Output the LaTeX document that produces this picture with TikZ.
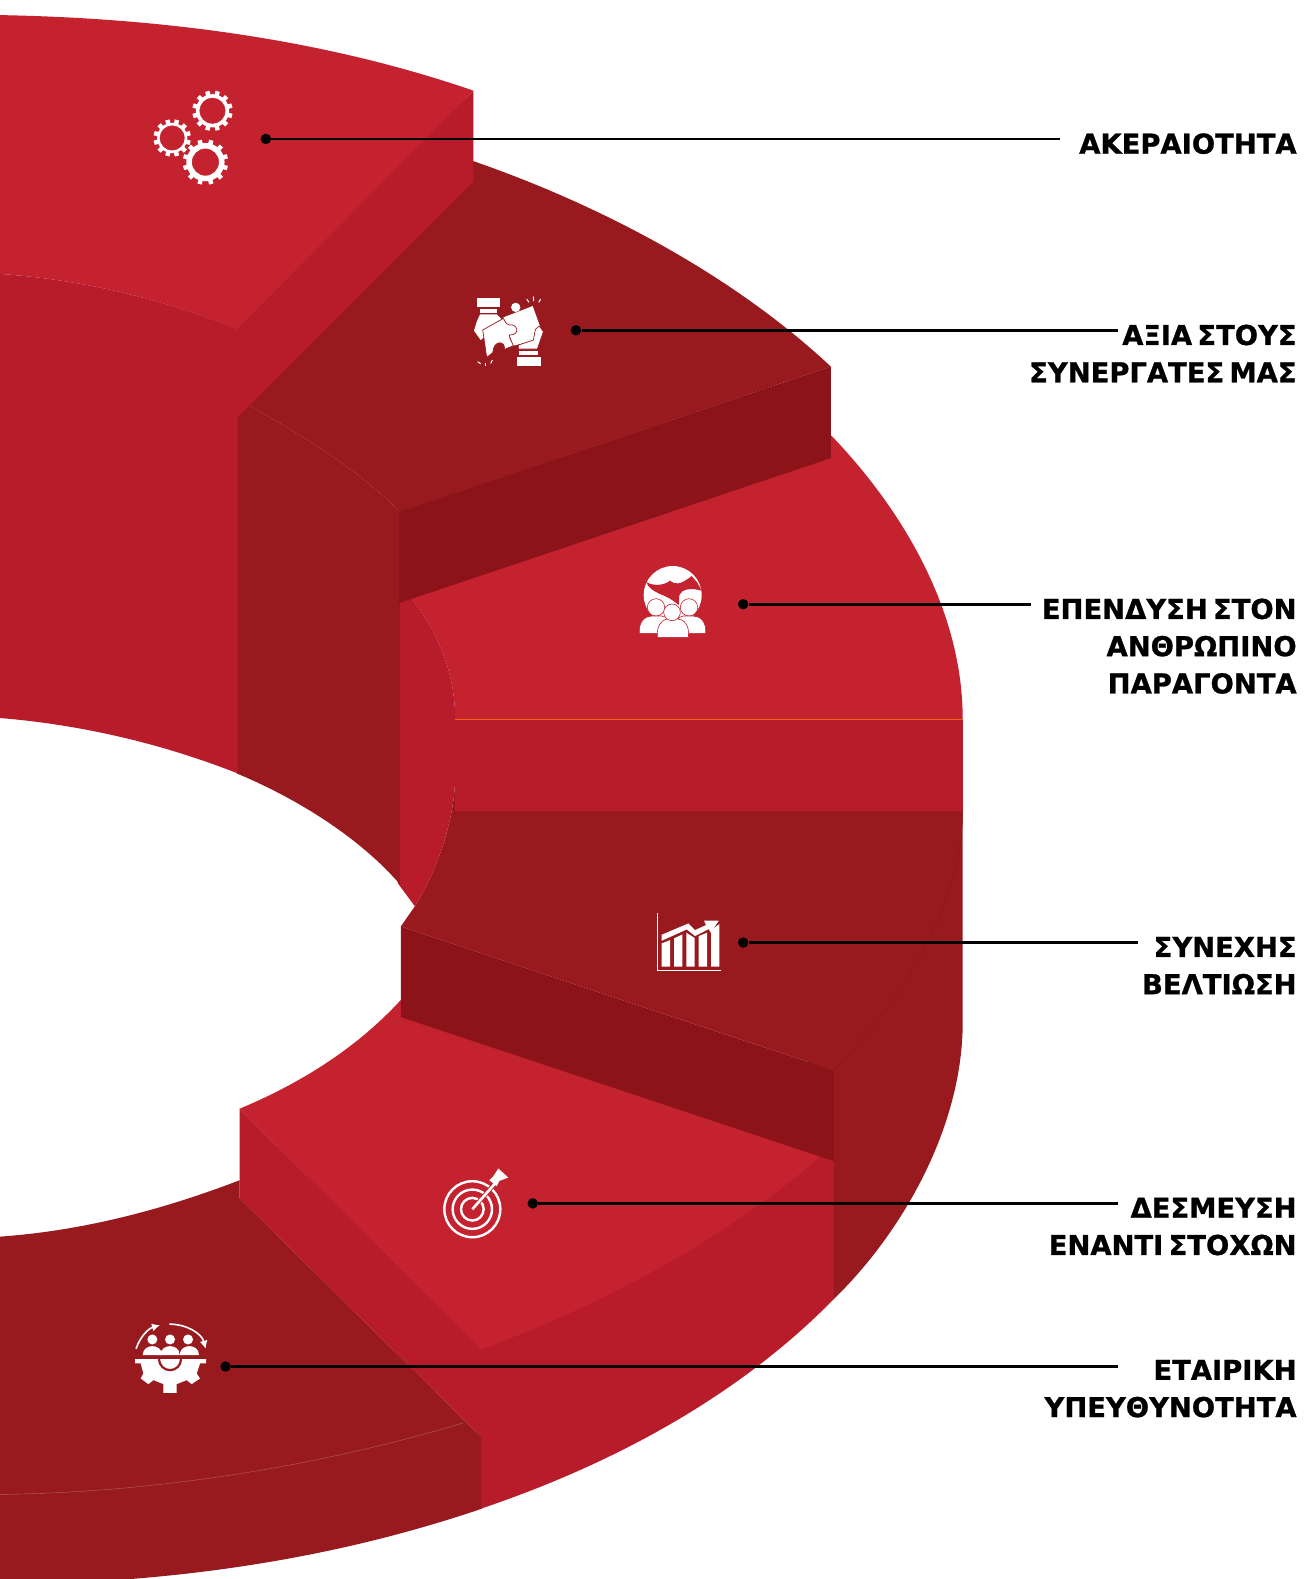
\documentclass[tikz,border=0pt]{standalone}
\usepackage{fontspec}
\usetikzlibrary{arrows.meta}
\setmainfont{DejaVu Sans}[BoldFeatures={FakeBold=0.9},WordSpace=0.55]
\definecolor{brightred}{HTML}{C52230}
\definecolor{wallred}{HTML}{B81C2B}
\definecolor{darkred}{HTML}{981A1E}
\definecolor{deepred}{HTML}{8C1418}
\tikzset{
	slicetop/.style={fill=brightred},
	slicewall/.style={fill=wallred},
	slicedark/.style={fill=darkred},
	sliceside/.style={fill=deepred},
	dot/.style={circle,fill=black,inner sep=0pt,minimum size=5.2pt},
	leader/.style={draw=black,line width=1.3pt},
	tag/.style={anchor=north east,align=right,inner sep=0pt,font=\fontsize{13.6}{18.5}\selectfont\bfseries},
	iconfill/.style={fill=white},
	iconline/.style={draw=white,line width=#1},
}
\newcommand{\gearicon}[4]{
	\fill[iconfill,even odd rule] (#1,#2) circle ({#4-3.5}) (#1,#2) circle (#3);
	\begin{scope}[shift={(#1,#2)}]
		\foreach \ang in {15,45,...,345}
			\draw[iconline=2.2pt] (\ang:{#4-5}) -- (\ang:#4);
	\end{scope}
}
\begin{document}
\begin{tikzpicture}[x=0.5pt,y=-0.5pt]
	\useasboundingbox (0,0) rectangle (1296,1568);
	\fill[white] (0,0) rectangle (1296,1568);
	% bottom slice
	\fill[slicedark] (0,1228) .. controls (85,1222) and (165,1200) .. (238,1172) -- (238,1190) -- (479,1428) -- (479,1498) .. controls (370,1535) and (255,1558) .. (130,1568) -- (0,1568) -- cycle;
	\draw[draw=darkred!70!white,line width=0.2pt] (0,1484) .. controls (160,1482) and (320,1455) .. (460,1413);
	% target slice
	\fill[slicewall] (238,1101) -- (479,1340) -- (479,1428) -- (238,1190) -- cycle;
	\fill[slicewall] (478,1335) -- (813,1145) -- (828,1148) -- (828,1290) .. controls (740,1380) and (620,1450) .. (478,1498) -- cycle;
	\fill[slicetop] (238,1101) .. controls (300,1075) and (355,1040) .. (398,993) -- (398,1000) -- (813,1140) -- (813,1150) .. controls (720,1230) and (600,1295) .. (478,1340) -- cycle;
	% chart slice
	\fill[slicedark] (940,805) -- (956,805) -- (956,1015) .. controls (956,1120) and (895,1225) .. (828,1290) -- (828,1100) -- (800,1050) -- cycle;
	\fill[sliceside] (398,920) -- (828,1063) -- (828,1153) -- (398,1010) -- cycle;
	\fill[slicedark] (452,803) -- (956,803) -- (956,805) .. controls (956,900) and (890,1000) .. (828,1063) -- (398,920) -- (412,900) .. controls (436,862) and (452,810) .. (452,770) -- cycle;
	\draw[draw=deepred,line width=0.2pt] (956,805) .. controls (956,900) and (890,1000) .. (828,1063);
	% people slice
	\fill[slicewall] (452,714) -- (956,714) -- (956,805) -- (452,805) -- cycle;
	\fill[slicetop] (410,585) -- (825,425) -- (825,432) .. controls (900,510) and (956,610) .. (956,714) -- (452,714) .. controls (452,670) and (436,630) .. (410,596) -- cycle;
	\fill[slicewall] (395,590) -- (410,585) -- (410,596) .. controls (436,630) and (452,670) .. (452,714) -- (452,770) .. controls (452,810) and (436,862) .. (412,900) -- (395,877) -- cycle;
	\draw[draw=orange!70!brightred,line width=0.2pt] (452,714) -- (956,714);
	% puzzle slice
	\fill[slicedark] (235,405) -- (248,403) .. controls (305,435) and (360,470) .. (397,508) -- (397,878) .. controls (360,835) and (300,795) .. (235,768) -- cycle;
	\fill[slicedark] (235,415) -- (470,160) .. controls (600,205) and (730,275) .. (825,364) -- (397,508) .. controls (360,470) and (305,435) .. (248,403) -- cycle;
	\fill[sliceside] (396,508) -- (825,364) -- (825,455) -- (396,599) -- cycle;
	% top slice
	\fill[slicewall] (0,272) .. controls (85,278) and (165,298) .. (236,327) -- (236,768) .. controls (165,740) and (85,720) .. (0,713) -- cycle;
	\fill[slicewall] (470,90) -- (470,180) -- (235,415) -- (235,320) -- cycle;
	\fill[slicetop] (0,15) .. controls (165,18) and (325,40) .. (470,90) -- (235,327) .. controls (165,298) and (85,278) .. (0,272) -- cycle;
	% gears
	\gearicon{211}{110}{13}{20}
	\gearicon{171}{137}{12.5}{18.5}
	\gearicon{204}{161}{13.5}{22.5}
	% puzzle hands
	\begin{scope}[shift={(446.9,278.1)},scale=0.331]
		\fill[iconfill] (82,54) rectangle (150,82);
		\fill[iconfill] (90,87) rectangle (142,98);
		\fill[iconfill] (202,232) rectangle (272,258);
		\fill[iconfill] (208,212) rectangle (265,226);
		\fill[iconfill] (90,103) -- (140,103) -- (155,118) -- (100,150) -- (104,168) -- (92,180) -- (72,152) -- (80,125) -- cycle;
		\fill[iconfill] (197,82) circle (14);
		\fill[iconfill] (160,112) -- (248,78) -- (274,150) -- (250,182) -- (190,197) -- cycle;
		\filldraw[fill=white,draw=darkred,line width=0.35pt] (205,207) -- (262,207) -- (280,155) -- (268,138) -- (256,148) -- (250,180) -- (205,195) -- cycle;
		\filldraw[fill=white,draw=darkred,line width=0.35pt] (98,150) -- (160,115) .. controls (168,130) and (172,135) .. (178,135) .. controls (200,128) and (215,165) .. (178,165) .. controls (178,175) and (185,185) .. (190,197) -- (163,208) .. controls (168,182) and (130,178) .. (128,218) -- (110,232) -- cycle;
		\foreach \xa/\ya/\xb/\yb in {230/57/237/67,250/50/251/63,272/57/266/67,83/245/92/251,106/248/106/258,127/240/122/250}
			\draw[iconline=0.5pt] (\xa,\ya) -- (\xb,\yb);
	\end{scope}
	% globe and people
	\begin{scope}[shift={(615.7,546.2)},scale=0.331]
		\fill[iconfill] (158,135) circle (87);
		\fill[brightred] (78,95) .. controls (95,108) and (130,108) .. (150,92) .. controls (165,105) and (180,105) .. (215,78) -- (232,98) -- (245,122) .. controls (210,112) and (185,118) .. (178,135) -- (176,165) .. controls (160,150) and (140,140) .. (120,132) .. controls (100,122) and (85,115) .. (78,95) -- cycle;
		\foreach \hx/\hy in {108/172,207/172}
			\filldraw[fill=white,draw=brightred,line width=0.3pt] (\hx,\hy) circle (26);
		\filldraw[fill=white,draw=brightred,line width=0.3pt] (58,250) .. controls (55,215) and (75,198) .. (95,198) -- (125,198) .. controls (145,198) and (150,220) .. (150,250) -- cycle;
		\filldraw[fill=white,draw=brightred,line width=0.3pt] (257,250) .. controls (260,215) and (240,198) .. (220,198) -- (190,198) .. controls (170,198) and (165,220) .. (165,250) -- cycle;
		\filldraw[fill=white,draw=brightred,line width=0.3pt] (112,262) .. controls (108,225) and (130,206) .. (145,206) -- (170,206) .. controls (190,206) and (210,225) .. (205,262) -- cycle;
		\filldraw[fill=white,draw=brightred,line width=0.3pt] (156,187) circle (25);
	\end{scope}
	% chart
	\begin{scope}[shift={(635.6,893.8)},scale=0.331]
		\draw[iconline=0.5pt] (52,40) -- (52,212) -- (242,212);
		\fill[iconfill] (65,130) -- (90,120) -- (90,200) -- (65,200) -- cycle;
		\fill[iconfill] (102,115) -- (127,103) -- (127,200) -- (102,200) -- cycle;
		\fill[iconfill] (139,98) -- (164,114) -- (164,200) -- (139,200) -- cycle;
		\fill[iconfill] (176,108) -- (201,98) -- (201,200) -- (176,200) -- cycle;
		\fill[iconfill] (213,90) -- (238,72) -- (238,200) -- (213,200) -- cycle;
		\fill[iconfill] (65,104) -- (145,70) -- (165,90) -- (198,75) -- (192,62) -- (236,62) -- (212,98) -- (206,87) -- (165,108) -- (140,88) -- (65,122) -- cycle;
	\end{scope}
	% target
	\begin{scope}[shift={(427,1142.2)},scale=0.331]
		\foreach \ring in {84,59,34}
			\draw[iconline=1.2pt] (127,177) circle (\ring);
		\draw[brightred,line width=2.2pt] (127,177) -- (190,105);
		\draw[iconline=1.3pt] (127,177) -- (195,100);
		\fill[iconfill] (205,55) -- (235,82) -- (208,92) -- (200,108) -- (178,90) -- (190,78) -- cycle;
	\end{scope}
	% team and gear
	\begin{scope}[shift={(119.2,1301)},scale=0.331]
		\foreach \hx in {97,150,204}
			\fill[iconfill] (\hx,88) circle (15);
		\foreach \bx in {97,150,208}
			\fill[iconfill] ({\bx-29},135) .. controls ({\bx-29},115) and ({\bx-12},108) .. (\bx,108) .. controls ({\bx+12},108) and ({\bx+29},115) .. ({\bx+29},135) -- cycle;
		\fill[iconfill] (45,147) -- (258,147) -- (258,160) -- (240,160) -- (230,190) -- (240,205) -- (215,222) -- (200,210) -- (170,222) -- (170,248) -- (130,248) -- (130,222) -- (100,210) -- (85,222) -- (62,205) -- (70,190) -- (62,160) -- (45,160) -- cycle;
		\draw[darkred,line width=1.1pt] (117,147) arc (180:0:33);
		\draw[iconline=0.8pt,-{Latex[length=4pt,width=4pt]}] (48,116) .. controls (60,80) and (85,55) .. (120,45);
		\draw[iconline=0.8pt,-{Latex[length=4pt,width=4pt]}] (148,42) .. controls (200,42) and (245,70) .. (257,116);
	\end{scope}
	% callouts
	\node (D1) at (264,138) [dot] {};
	\node (D2) at (572,328) [dot] {};
	\node (D3) at (738,600) [dot] {};
	\node (D4) at (738,936) [dot] {};
	\node (D5) at (529,1195) [dot] {};
	\node (D6) at (224,1357) [dot] {};
	\coordinate (E1) at (1053,138);
	\coordinate (E2) at (1110,328);
	\coordinate (E3) at (1024,600);
	\coordinate (E4) at (1130,936);
	\coordinate (E5) at (1110,1195);
	\coordinate (E6) at (1110,1357);
	\draw[leader] (D1) -- (E1);
	\draw[leader] (D2) -- (E2);
	\draw[leader] (D3) -- (E3);
	\draw[leader] (D4) -- (E4);
	\draw[leader] (D5) -- (E5);
	\draw[leader] (D6) -- (E6);
	\node (T1) at (1288,132) [tag] {ΑΚΕΡΑΙΟΤΗΤΑ};
	\node (T2) at (1288,322) [tag] {ΑΞΙΑ ΣΤΟΥΣ\\ΣΥΝΕΡΓΑΤΕΣ ΜΑΣ};
	\node (T3) at (1288,594) [tag] {ΕΠΕΝΔΥΣΗ ΣΤΟΝ\\ΑΝΘΡΩΠΙΝΟ\\ΠΑΡΑΓΟΝΤΑ};
	\node (T4) at (1288,930) [tag] {ΣΥΝΕΧΗΣ\\ΒΕΛΤΙΩΣΗ};
	\node (T5) at (1288,1189) [tag] {ΔΕΣΜΕΥΣΗ\\ΕΝΑΝΤΙ ΣΤΟΧΩΝ};
	\node (T6) at (1288,1350) [tag] {ΕΤΑΙΡΙΚΗ\\ΥΠΕΥΘΥΝΟΤΗΤΑ};
\end{tikzpicture}
\end{document}
